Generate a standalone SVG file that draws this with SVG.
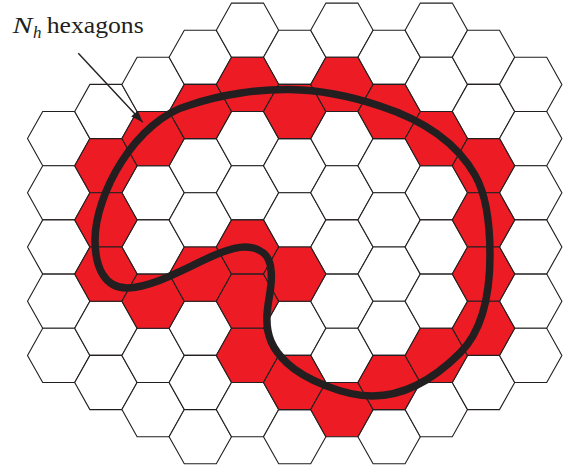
<svg xmlns="http://www.w3.org/2000/svg" xmlns:xlink="http://www.w3.org/1999/xlink" width="575" height="468" viewBox="0 0 575 468">
<style>
.w{fill:#ffffff;stroke:#231f20;stroke-width:1.1}
.r{fill:#ed1c24;stroke:#231f20;stroke-width:1.1}
.curve{fill:none;stroke:#231f20;stroke-width:7.5;stroke-linejoin:round}
.arrow{fill:none;stroke:#231f20;stroke-width:1.4}
.lbl{font-family:"Liberation Serif","Times New Roman",serif;fill:#231f20}
</style>
<defs>
<polygon id="hx" points="-31.2,0 -16,-27.1 16,-27.1 31.2,0 16,27.1 -16,27.1"/>
<marker id="ah" markerUnits="userSpaceOnUse" markerWidth="14" markerHeight="10" refX="12" refY="4.5" orient="auto">
<path d="M0,0 L12,4.5 L0,9 z" fill="#231f20"/>
</marker>
</defs>
<g id="grid">
<g id="c0">
<g id="h0-2"><use xlink:href="#hx" class="w" x="58.7" y="138.6"/></g>
<g id="h0-3"><use xlink:href="#hx" class="w" x="58.7" y="192.8"/></g>
<g id="h0-4"><use xlink:href="#hx" class="w" x="58.7" y="247.0"/></g>
<g id="h0-5"><use xlink:href="#hx" class="w" x="58.7" y="301.2"/></g>
<g id="h0-6"><use xlink:href="#hx" class="w" x="58.7" y="355.4"/></g>
</g>
<g id="c1">
<g id="h1-1"><use xlink:href="#hx" class="w" x="105.9" y="111.5"/></g>
<g id="h1-5"><use xlink:href="#hx" class="w" x="105.9" y="328.3"/></g>
<g id="h1-6"><use xlink:href="#hx" class="w" x="105.9" y="382.5"/></g>
</g>
<g id="c2">
<g id="h2-1"><use xlink:href="#hx" class="w" x="153.1" y="84.4"/></g>
<g id="h2-3"><use xlink:href="#hx" class="w" x="153.1" y="192.8"/></g>
<g id="h2-4"><use xlink:href="#hx" class="w" x="153.1" y="247.0"/></g>
<g id="h2-6"><use xlink:href="#hx" class="w" x="153.1" y="355.4"/></g>
<g id="h2-7"><use xlink:href="#hx" class="w" x="153.1" y="409.6"/></g>
</g>
<g id="c3">
<g id="h3-0"><use xlink:href="#hx" class="w" x="200.3" y="57.3"/></g>
<g id="h3-2"><use xlink:href="#hx" class="w" x="200.3" y="165.7"/></g>
<g id="h3-3"><use xlink:href="#hx" class="w" x="200.3" y="219.9"/></g>
<g id="h3-5"><use xlink:href="#hx" class="w" x="200.3" y="328.3"/></g>
<g id="h3-6"><use xlink:href="#hx" class="w" x="200.3" y="382.5"/></g>
<g id="h3-7"><use xlink:href="#hx" class="w" x="200.3" y="436.7"/></g>
</g>
<g id="c4">
<g id="h4-0"><use xlink:href="#hx" class="w" x="247.5" y="30.2"/></g>
<g id="h4-2"><use xlink:href="#hx" class="w" x="247.5" y="138.6"/></g>
<g id="h4-3"><use xlink:href="#hx" class="w" x="247.5" y="192.8"/></g>
<g id="h4-7"><use xlink:href="#hx" class="w" x="247.5" y="409.6"/></g>
</g>
<g id="c5">
<g id="h5-0"><use xlink:href="#hx" class="w" x="294.7" y="57.3"/></g>
<g id="h5-2"><use xlink:href="#hx" class="w" x="294.7" y="165.7"/></g>
<g id="h5-3"><use xlink:href="#hx" class="w" x="294.7" y="219.9"/></g>
<g id="h5-5"><use xlink:href="#hx" class="w" x="294.7" y="328.3"/></g>
<g id="h5-7"><use xlink:href="#hx" class="w" x="294.7" y="436.7"/></g>
</g>
<g id="c6">
<g id="h6-0"><use xlink:href="#hx" class="w" x="341.9" y="30.2"/></g>
<g id="h6-2"><use xlink:href="#hx" class="w" x="341.9" y="138.6"/></g>
<g id="h6-3"><use xlink:href="#hx" class="w" x="341.9" y="192.8"/></g>
<g id="h6-4"><use xlink:href="#hx" class="w" x="341.9" y="247.0"/></g>
<g id="h6-5"><use xlink:href="#hx" class="w" x="341.9" y="301.2"/></g>
<g id="h6-6"><use xlink:href="#hx" class="w" x="341.9" y="355.4"/></g>
</g>
<g id="c7">
<g id="h7-0"><use xlink:href="#hx" class="w" x="389.1" y="57.3"/></g>
<g id="h7-2"><use xlink:href="#hx" class="w" x="389.1" y="165.7"/></g>
<g id="h7-3"><use xlink:href="#hx" class="w" x="389.1" y="219.9"/></g>
<g id="h7-4"><use xlink:href="#hx" class="w" x="389.1" y="274.1"/></g>
<g id="h7-5"><use xlink:href="#hx" class="w" x="389.1" y="328.3"/></g>
<g id="h7-7"><use xlink:href="#hx" class="w" x="389.1" y="436.7"/></g>
</g>
<g id="c8">
<g id="h8-0"><use xlink:href="#hx" class="w" x="436.3" y="30.2"/></g>
<g id="h8-1"><use xlink:href="#hx" class="w" x="436.3" y="84.4"/></g>
<g id="h8-3"><use xlink:href="#hx" class="w" x="436.3" y="192.8"/></g>
<g id="h8-4"><use xlink:href="#hx" class="w" x="436.3" y="247.0"/></g>
<g id="h8-5"><use xlink:href="#hx" class="w" x="436.3" y="301.2"/></g>
<g id="h8-7"><use xlink:href="#hx" class="w" x="436.3" y="409.6"/></g>
</g>
<g id="c9">
<g id="h9-0"><use xlink:href="#hx" class="w" x="483.5" y="57.3"/></g>
<g id="h9-1"><use xlink:href="#hx" class="w" x="483.5" y="111.5"/></g>
<g id="h9-6"><use xlink:href="#hx" class="w" x="483.5" y="382.5"/></g>
</g>
<g id="c10">
<g id="h10-1"><use xlink:href="#hx" class="w" x="530.7" y="84.4"/></g>
<g id="h10-2"><use xlink:href="#hx" class="w" x="530.7" y="138.6"/></g>
<g id="h10-3"><use xlink:href="#hx" class="w" x="530.7" y="192.8"/></g>
<g id="h10-4"><use xlink:href="#hx" class="w" x="530.7" y="247.0"/></g>
<g id="h10-5"><use xlink:href="#hx" class="w" x="530.7" y="301.2"/></g>
<g id="h10-6"><use xlink:href="#hx" class="w" x="530.7" y="355.4"/></g>
</g>
<g id="red">
<g id="h1-2"><use xlink:href="#hx" class="r" x="105.9" y="165.7"/></g>
<g id="h1-3"><use xlink:href="#hx" class="r" x="105.9" y="219.9"/></g>
<g id="h1-4"><use xlink:href="#hx" class="r" x="105.9" y="274.1"/></g>
<g id="h2-2"><use xlink:href="#hx" class="r" x="153.1" y="138.6"/></g>
<g id="h2-5"><use xlink:href="#hx" class="r" x="153.1" y="301.2"/></g>
<g id="h3-1"><use xlink:href="#hx" class="r" x="200.3" y="111.5"/></g>
<g id="h3-4"><use xlink:href="#hx" class="r" x="200.3" y="274.1"/></g>
<g id="h4-1"><use xlink:href="#hx" class="r" x="247.5" y="84.4"/></g>
<g id="h4-4"><use xlink:href="#hx" class="r" x="247.5" y="247.0"/></g>
<g id="h4-5"><use xlink:href="#hx" class="r" x="247.5" y="301.2"/></g>
<g id="h4-6"><use xlink:href="#hx" class="r" x="247.5" y="355.4"/></g>
<g id="h5-1"><use xlink:href="#hx" class="r" x="294.7" y="111.5"/></g>
<g id="h5-4"><use xlink:href="#hx" class="r" x="294.7" y="274.1"/></g>
<g id="h5-6"><use xlink:href="#hx" class="r" x="294.7" y="382.5"/></g>
<g id="h6-1"><use xlink:href="#hx" class="r" x="341.9" y="84.4"/></g>
<g id="h6-7"><use xlink:href="#hx" class="r" x="341.9" y="409.6"/></g>
<g id="h7-1"><use xlink:href="#hx" class="r" x="389.1" y="111.5"/></g>
<g id="h7-6"><use xlink:href="#hx" class="r" x="389.1" y="382.5"/></g>
<g id="h8-2"><use xlink:href="#hx" class="r" x="436.3" y="138.6"/></g>
<g id="h8-6"><use xlink:href="#hx" class="r" x="436.3" y="355.4"/></g>
<g id="h9-2"><use xlink:href="#hx" class="r" x="483.5" y="165.7"/></g>
<g id="h9-3"><use xlink:href="#hx" class="r" x="483.5" y="219.9"/></g>
<g id="h9-4"><use xlink:href="#hx" class="r" x="483.5" y="274.1"/></g>
<g id="h9-5"><use xlink:href="#hx" class="r" x="483.5" y="328.3"/></g>
</g>
</g>
<g id="loop">
<path class="curve" d="M95,240 C95,195 135,120 190,105 C222,94 260,89 290,89.5 C320,90 350,96 380,106 C420,119 455,140 475,175 C487,196 490,225 490,255 C490,295 483,330 460,353 C435,378 405,396 372,396 C345,396 305,380 287,363 C272,349 266,335 267,315 C268,298 273,285 271,270 C270,255 260,247 245,247 C215,247 165,287 127,288 C105,288 95,268 95,240 Z"/>
</g>
<g id="connectors">
<line class="arrow" x1="78.3" y1="53.3" x2="142.7" y2="122.3" marker-end="url(#ah)"/>
</g>
<g id="label">
<text class="lbl" x="12.5" y="32.7" font-size="24" font-style="italic" textLength="20" lengthAdjust="spacingAndGlyphs">N</text>
<text class="lbl" x="33" y="38.3" font-size="17" font-style="italic">h</text>
<text class="lbl" x="46.7" y="32.7" font-size="24" textLength="97" lengthAdjust="spacingAndGlyphs">hexagons</text>
</g>
</svg>
